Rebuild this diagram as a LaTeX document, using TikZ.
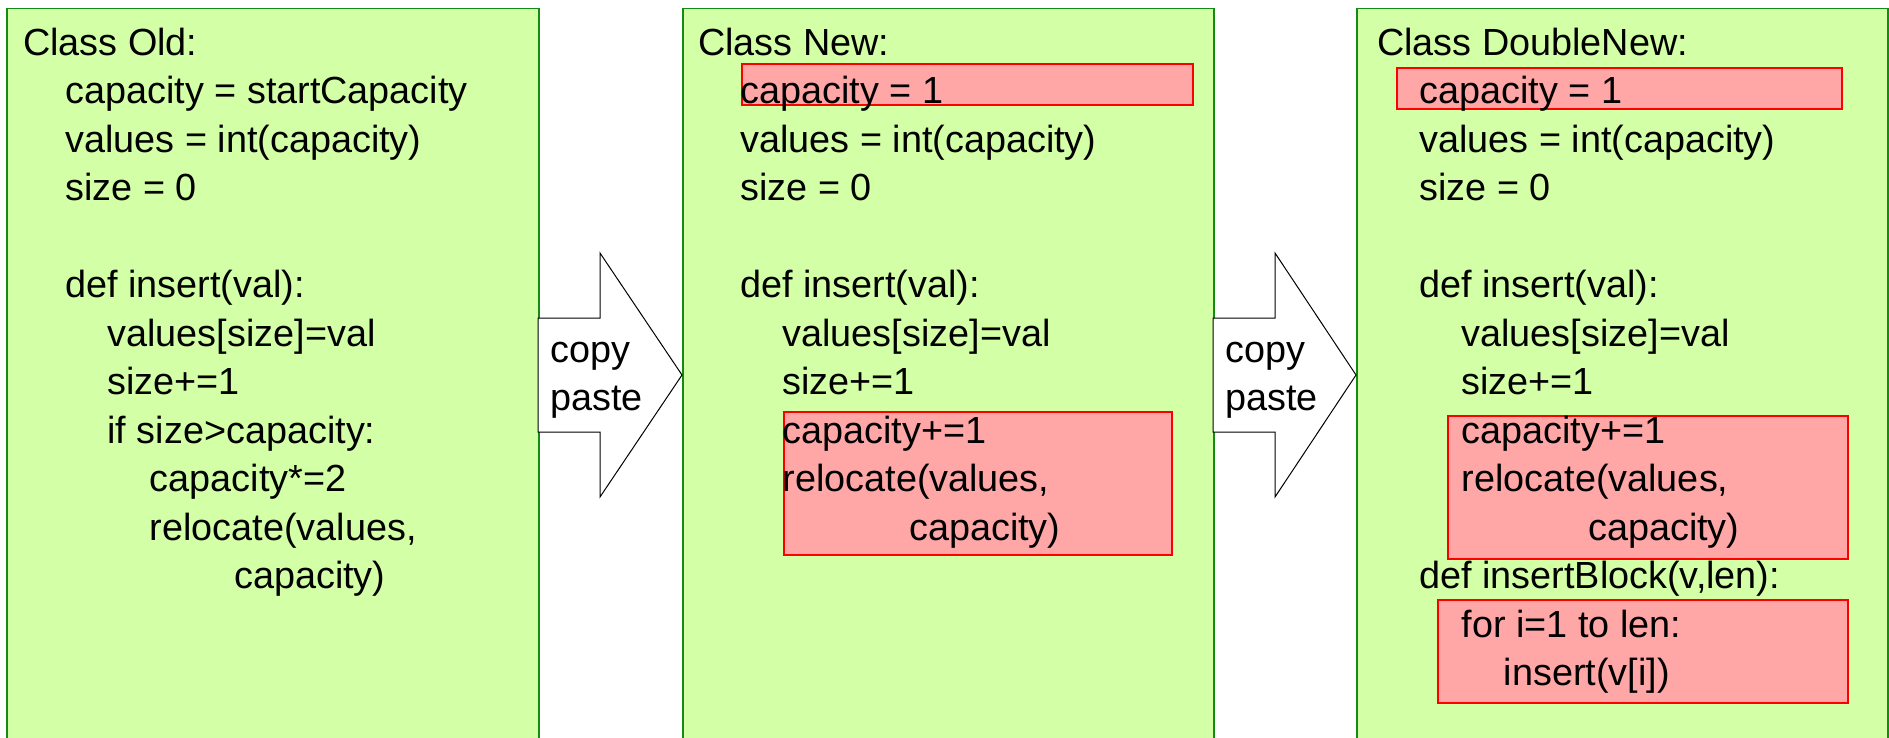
\documentclass[tikz,border=0pt]{standalone}
\usepackage{fontspec}
\setmainfont{Liberation Sans}
\usetikzlibrary{positioning}

\definecolor{classfill}{RGB}{211,255,166}
\definecolor{classline}{RGB}{20,140,20}
\definecolor{changefill}{RGB}{255,166,166}
\newlength{\indw}
\setlength{\indw}{42.2pt}
\newcommand{\codeind}[1]{\hspace*{#1\indw}\ignorespaces}

\begin{document}
\begin{tikzpicture}[x=1pt,y=-1pt,font=\fontsize{37.8}{48.5}\selectfont]
  \tikzstyle{classbox}=[draw=classline,line width=1.5pt,fill=classfill,anchor=north west,minimum width=532pt,minimum height=760pt,inner sep=0pt]
  \tikzstyle{change}=[draw=red,line width=1.3pt,fill=changefill]
  \tikzstyle{code}=[anchor=north west,align=left,inner sep=0pt]
  \tikzstyle{blockarrow}=[draw=black,line width=1pt,fill=white,line join=miter]
  \useasboundingbox (0,0) rectangle (1889,738);
  \clip (0,0) rectangle (1889,738);
  % the three classes
  \node[classbox] (old) at (6,8) {};
  \node[classbox,minimum width=531pt] (new) at (682,8) {};
  \node[classbox,minimum width=531pt] (doublenew) at (1356,8) {};
  % changed lines
  \draw[change] (742,64) rectangle (1193,105);
  \draw[change] (784,412) rectangle (1172,555);
  \draw[change] (1397,68) rectangle (1842,109);
  \draw[change] (1448,416) rectangle (1848,559);
  \draw[change] (1438,600) rectangle (1848,703);
  % code
  \node[code] (oldcode) at ([xshift=17pt,yshift=-13pt]old.north west) {\strut Class Old:\\
    \codeind{1}capacity = startCapacity\\
    \codeind{1}values = int(capacity)\\
    \codeind{1}size = 0\\
    \\
    \codeind{1}def insert(val):\\
    \codeind{2}values[size]=val\\
    \codeind{2}size+=1\\
    \codeind{2}if size>capacity:\\
    \codeind{3}capacity*=2\\
    \codeind{3}relocate(values,\\
    \codeind{5}capacity)};
  \node[code] (newcode) at ([xshift=16pt,yshift=-13pt]new.north west) {\strut Class New:\\
    \codeind{1}capacity = 1\\
    \codeind{1}values = int(capacity)\\
    \codeind{1}size = 0\\
    \\
    \codeind{1}def insert(val):\\
    \codeind{2}values[size]=val\\
    \codeind{2}size+=1\\
    \codeind{2}capacity+=1\\
    \codeind{2}relocate(values,\\
    \codeind{5}capacity)};
  \node[code] (doublenewcode) at ([xshift=21pt,yshift=-13pt]doublenew.north west) {\strut Class DoubleNew:\\
    \codeind{1}capacity = 1\\
    \codeind{1}values = int(capacity)\\
    \codeind{1}size = 0\\
    \\
    \codeind{1}def insert(val):\\
    \codeind{2}values[size]=val\\
    \codeind{2}size+=1\\
    \codeind{2}capacity+=1\\
    \codeind{2}relocate(values,\\
    \codeind{5}capacity)\\
    \codeind{1}def insertBlock(v,len):\\
    \codeind{2}for i=1 to len:\\
    \codeind{3}insert(v[i])};
  % copy/paste arrows
  \foreach \from/\to/\nm in {538/682/copyone,1213/1356/copytwo}{
    \draw[blockarrow] (\from,318) -- (\from+62,318) -- (\from+62,253) -- (\to,375)
      -- (\from+62,497) -- (\from+62,432) -- (\from,432) -- cycle;
    \node[code] (\nm) at (\from+12,328) {\strut copy\\paste};
  }
\end{tikzpicture}
\end{document}
